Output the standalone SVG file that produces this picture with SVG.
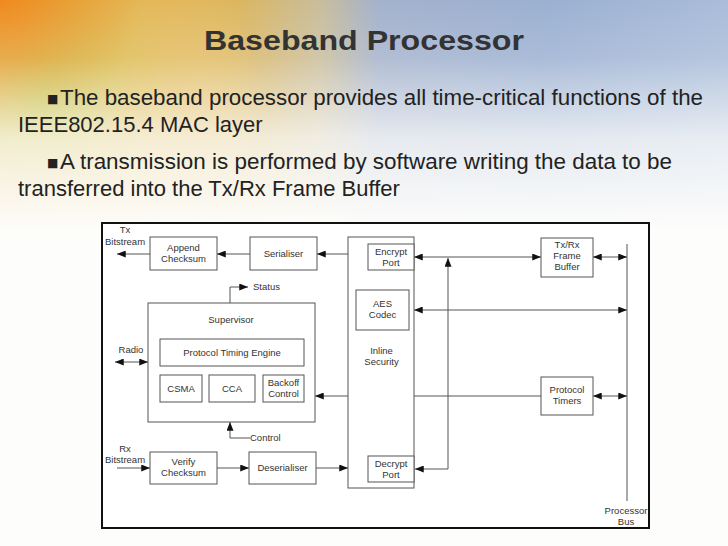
<svg xmlns="http://www.w3.org/2000/svg" width="728" height="546" viewBox="0 0 728 546">
<defs>
<linearGradient id="topband" x1="0" y1="0" x2="1" y2="0">
<stop offset="0" stop-color="#ee8a22"/>
<stop offset="0.18" stop-color="#e7a23a"/>
<stop offset="0.32" stop-color="#dcb65c"/>
<stop offset="0.44" stop-color="#c9bd9c"/>
<stop offset="0.52" stop-color="#a4b2cc"/>
<stop offset="0.75" stop-color="#9bb0d2"/>
<stop offset="1" stop-color="#a9bcd9"/>
</linearGradient>
<linearGradient id="fade" x1="0" y1="0" x2="0" y2="1">
<stop offset="0" stop-color="#fdfdfb" stop-opacity="0"/>
<stop offset="0.25" stop-color="#fdfdfb" stop-opacity="0.15"/>
<stop offset="0.6" stop-color="#fdfdfb" stop-opacity="0.75"/>
<stop offset="1" stop-color="#fdfdfb" stop-opacity="1"/>
</linearGradient>
<radialGradient id="green" cx="40" cy="100" r="220" gradientUnits="userSpaceOnUse">
<stop offset="0" stop-color="#b0c535" stop-opacity="0.95"/>
<stop offset="0.45" stop-color="#d6d068" stop-opacity="0.55"/>
<stop offset="1" stop-color="#f4ecc0" stop-opacity="0"/>
</radialGradient>
<radialGradient id="orange" cx="0" cy="0" r="140" gradientUnits="userSpaceOnUse">
<stop offset="0" stop-color="#f08a1e" stop-opacity="1"/>
<stop offset="1" stop-color="#f08a1e" stop-opacity="0"/>
</radialGradient>
<marker id="ah" viewBox="0 0 10 8" refX="10" refY="4" markerWidth="9" markerHeight="7" markerUnits="userSpaceOnUse" orient="auto-start-reverse">
<path d="M0,0 L10,4 L0,8 z" fill="#111"/>
</marker>
<style>
.bx{fill:#fff;stroke:#555;stroke-width:1}
.ln{fill:none;stroke:#555;stroke-width:1}
.t{font-family:"Liberation Sans",Arial,sans-serif;font-size:9.5px;fill:#333;text-anchor:middle}
.tl{font-family:"Liberation Sans",Arial,sans-serif;font-size:9.5px;fill:#333}
.body{font-family:"Liberation Sans",Arial,sans-serif;font-size:22px;fill:#222}
.bul{font-family:"DejaVu Sans","Liberation Sans",sans-serif;font-size:12px;fill:#222}
</style>
</defs>
<rect width="728" height="546" fill="#fdfdfb"/>
<rect width="728" height="230" fill="url(#topband)"/>
<rect width="728" height="230" fill="url(#green)"/>
<rect width="728" height="230" fill="url(#orange)"/>
<rect width="728" height="231" fill="url(#fade)"/>

<text x="364" y="50" font-family="'Liberation Sans',Arial,sans-serif" font-weight="bold" font-size="28" fill="#333" text-anchor="middle" textLength="320" lengthAdjust="spacingAndGlyphs">Baseband Processor</text>

<text class="bul" x="47" y="103">■</text>
<text class="body" x="60" y="105" textLength="643" lengthAdjust="spacingAndGlyphs">The baseband processor provides all time-critical functions of the</text>
<text class="body" x="18" y="132">IEEE802.15.4 MAC layer</text>
<text class="bul" x="47" y="167">■</text>
<text class="body" x="60" y="169" textLength="612" lengthAdjust="spacingAndGlyphs">A transmission is performed by software writing the data to be</text>
<text class="body" x="18" y="196">transferred into the Tx/Rx Frame Buffer</text>

<rect x="102" y="223" width="547" height="305" fill="#fff" stroke="#111" stroke-width="2"/>

<g id="connectors">
<line class="ln" x1="150" y1="254" x2="117" y2="254" marker-end="url(#ah)"/>
<line class="ln" x1="250" y1="254" x2="217" y2="254" marker-end="url(#ah)"/>
<line class="ln" x1="348" y1="254" x2="317" y2="254" marker-end="url(#ah)"/>
<polyline class="ln" points="230,303 230,287 248,287" marker-end="url(#ah)"/>
<line class="ln" x1="115" y1="362" x2="148" y2="362" marker-start="url(#ah)" marker-end="url(#ah)"/>
<line class="ln" x1="348" y1="396" x2="315" y2="396" marker-end="url(#ah)"/>
<polyline class="ln" points="250,438 230,438 230,422" marker-end="url(#ah)"/>
<line class="ln" x1="117" y1="468" x2="150" y2="468" marker-end="url(#ah)"/>
<line class="ln" x1="217" y1="468" x2="249" y2="468" marker-end="url(#ah)"/>
<line class="ln" x1="316" y1="468" x2="348" y2="468" marker-end="url(#ah)"/>
<line class="ln" x1="414" y1="257" x2="541" y2="257" marker-start="url(#ah)" marker-end="url(#ah)"/>
<polyline class="ln" points="448,258 448,469 415,469" marker-start="url(#ah)" marker-end="url(#ah)"/>
<line class="ln" x1="593" y1="257" x2="627" y2="257" marker-start="url(#ah)" marker-end="url(#ah)"/>
<line class="ln" x1="414" y1="310" x2="627" y2="310" marker-start="url(#ah)" marker-end="url(#ah)"/>
<line class="ln" x1="414" y1="396" x2="541" y2="396"/>
<line class="ln" x1="593" y1="396" x2="627" y2="396" marker-start="url(#ah)" marker-end="url(#ah)"/>
<line class="ln" x1="627" y1="244" x2="627" y2="501"/>
</g>

<g id="tx-bitstream"><text class="t" x="125" y="233">Tx</text><text class="t" x="125" y="245">Bitstream</text></g>
<g id="append-checksum"><rect class="bx" x="150" y="237" width="67" height="33"/><text class="t" x="183.5" y="251">Append</text><text class="t" x="183.5" y="262">Checksum</text></g>
<g id="serialiser"><rect class="bx" x="250" y="237" width="67" height="33"/><text class="t" x="283.5" y="257">Serialiser</text></g>
<g id="status"><text class="tl" x="253" y="290">Status</text></g>
<g id="supervisor"><rect class="bx" x="148" y="303" width="167" height="119"/><text class="t" x="231" y="323" font-size="10.5">Supervisor</text></g>
<g id="protocol-timing-engine"><rect class="bx" x="160" y="339" width="144" height="27"/><text class="t" x="232" y="356">Protocol Timing Engine</text></g>
<g id="csma"><rect class="bx" x="160" y="375" width="42" height="27"/><text class="t" x="181" y="392">CSMA</text></g>
<g id="cca"><rect class="bx" x="209" y="375" width="46" height="27"/><text class="t" x="232" y="392">CCA</text></g>
<g id="backoff-control"><rect class="bx" x="263" y="375" width="41" height="27"/><text class="t" x="283.5" y="386">Backoff</text><text class="t" x="283.5" y="397">Control</text></g>
<g id="radio"><text class="t" x="131" y="353">Radio</text></g>
<g id="control"><text class="tl" x="250" y="441">Control</text></g>
<g id="rx-bitstream"><text class="t" x="125" y="452">Rx</text><text class="t" x="125" y="463">Bitstream</text></g>
<g id="verify-checksum"><rect class="bx" x="150" y="452" width="67" height="32"/><text class="t" x="183.5" y="465">Verify</text><text class="t" x="183.5" y="476">Checksum</text></g>
<g id="deserialiser"><rect class="bx" x="249" y="452" width="67" height="32"/><text class="t" x="282.5" y="471">Deserialiser</text></g>
<g id="inline-security"><rect class="bx" x="348" y="237" width="66" height="251"/><text class="t" x="381.5" y="354">Inline</text><text class="t" x="381.5" y="365">Security</text></g>
<g id="encrypt-port"><rect class="bx" x="368" y="244" width="46" height="26"/><text class="t" x="391" y="255">Encrypt</text><text class="t" x="391" y="266">Port</text></g>
<g id="aes-codec"><rect class="bx" x="356" y="290" width="53" height="40"/><text class="t" x="382.5" y="307">AES</text><text class="t" x="382.5" y="318">Codec</text></g>
<g id="decrypt-port"><rect class="bx" x="368" y="456" width="46" height="26"/><text class="t" x="391" y="467">Decrypt</text><text class="t" x="391" y="478">Port</text></g>
<g id="frame-buffer"><rect class="bx" x="541" y="238" width="52" height="39"/><text class="t" x="567" y="248">Tx/Rx</text><text class="t" x="567" y="259">Frame</text><text class="t" x="567" y="270">Buffer</text></g>
<g id="protocol-timers"><rect class="bx" x="541" y="377" width="52" height="38"/><text class="t" x="567" y="393">Protocol</text><text class="t" x="567" y="404">Timers</text></g>
<g id="processor-bus"><text class="t" x="626" y="514">Processor</text><text class="t" x="626" y="525">Bus</text></g>
</svg>
